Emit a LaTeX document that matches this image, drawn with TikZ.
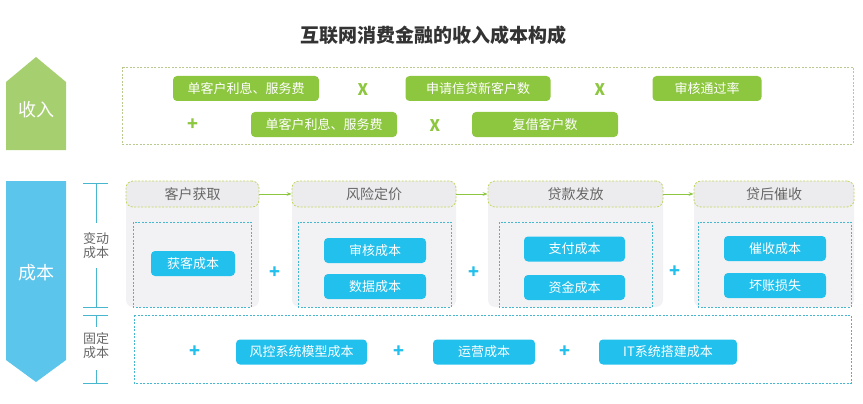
\documentclass[tikz,border=0pt]{standalone}
\usepackage{fontspec}
\setmainfont{Noto Sans CJK SC}
\usetikzlibrary{arrows.meta}
\definecolor{grnbox}{HTML}{8DC63F}
\definecolor{grnarr}{HTML}{A6D06F}
\definecolor{blubox}{HTML}{22C0EC}
\definecolor{bluarr}{HTML}{5CC5EC}
\definecolor{brkline}{HTML}{47B6CF}
\definecolor{colgray}{HTML}{F2F2F4}
\definecolor{headgray}{HTML}{ECECEE}
\definecolor{headline}{HTML}{C3D55B}
\definecolor{revline}{HTML}{B9C98F}
\definecolor{txtgray}{HTML}{666666}

\tikzset{
	boxfont/.style={font=\fontsize{13}{13}\selectfont},
	grnnode/.style={boxfont, fill=grnbox, text=white, rounded corners=4pt, inner sep=0pt, minimum height=25pt},
	blunode/.style={boxfont, fill=blubox, text=white, rounded corners=4pt, inner sep=0pt, minimum height=25pt},
	stagehead/.style={font=\fontsize{14}{14}\selectfont, draw=headline, line width=0.8pt, dash pattern=on 2pt off 1.5pt, fill=headgray, rounded corners=7pt, text=txtgray, inner sep=0pt, minimum height=26pt},
	finedash/.style={line width=0.8pt, dash pattern=on 2pt off 1.5pt},
	opgrn/.style={font=\fontsize{16}{16}\selectfont\bfseries, text=grnbox},
	opblu/.style={font=\fontsize{18}{18}\selectfont\bfseries, text=blubox},
	flowarr/.style={-{Stealth[length=5pt]}, grnbox, line width=1pt},
}

\begin{document}
\begin{tikzpicture}[x=1pt, y=-1pt]
	\useasboundingbox (0,0) rectangle (863,404);

	\node[font=\fontsize{19}{19}\selectfont\bfseries, text=black!80] (title) at (433,35) {互联网消费金融的收入成本构成};

	% side arrows
	\fill[grnarr] (6,82) -- (36,57) -- (66,82) -- (66,150) -- (6,150) -- cycle;
	\node[font=\fontsize{18}{18}\selectfont, text=white] (inc) at (36,110) {收入};
	\fill[bluarr] (6,181) -- (66,181) -- (66,360) -- (36,382) -- (6,360) -- cycle;
	\node[font=\fontsize{18}{18}\selectfont, text=white] (cost) at (36,273) {成本};

	% income
	\draw[revline, finedash] (122,67) rectangle (853,144);
	\node[grnnode, minimum width=146pt] (inc1) at (246,88.5) {单客户利息、服务费};
	\node[opgrn] (xa) at (363,90) {X};
	\node[grnnode, minimum width=145pt] (inc2) at (478,88.5) {申请信贷新客户数};
	\node[opgrn] (xb) at (600,90) {X};
	\node[grnnode, minimum width=109pt] (inc3) at (707,88.5) {审核通过率};
	\node[opgrn, font=\fontsize{18}{18}\selectfont\bfseries] (pa) at (193,125) {+};
	\node[grnnode, minimum width=146pt] (inc4) at (324,124.5) {单客户利息、服务费};
	\node[opgrn] (xc) at (435,126) {X};
	\node[grnnode, minimum width=146pt] (inc5) at (545,124.5) {复借客户数};

	% brackets
	\draw[brkline, line width=1pt] (83,183) -- (108,183) (96,183) -- (96,223) (96,268) -- (96,307) (83,307) -- (108,307);
	\draw[brkline, line width=1pt] (83,315) -- (108,315) (96,315) -- (96,327) (96,370) -- (96,383) (83,383) -- (108,383);
	\node[boxfont, text=txtgray, align=center] (var) at (96,246) {变动\\[1pt]成本};
	\node[boxfont, text=txtgray, align=center] (fix) at (96,346) {固定\\[1pt]成本};

	% stage columns
	\fill[colgray, rounded corners=7pt] (126,181) rectangle (259,307);
	\fill[colgray, rounded corners=7pt] (292,181) rectangle (456,307);
	\fill[colgray, rounded corners=7pt] (488,181) rectangle (663,307);
	\fill[colgray, rounded corners=7pt] (694,181) rectangle (854,307);
	\node[stagehead, minimum width=133pt] (st1) at (192.5,194) {客户获取};
	\node[stagehead, minimum width=164pt] (st2) at (374,194) {风险定价};
	\node[stagehead, minimum width=175pt] (st3) at (575.5,194) {贷款发放};
	\node[stagehead, minimum width=160pt] (st4) at (774,194) {贷后催收};
	\draw[flowarr] (st1) -- (st2);
	\draw[flowarr] (st2) -- (st3);
	\draw[flowarr] (st3) -- (st4);

	\draw[brkline, finedash] (133,222) rectangle (251,307);
	\draw[brkline, finedash] (298,222) rectangle (451,307);
	\draw[brkline, finedash] (499,222) rectangle (652,307);
	\draw[brkline, finedash] (698,222) rectangle (851,307);

	\node[blunode, minimum width=84pt] (c1) at (193,263.5) {获客成本};
	\node[opblu] (pb) at (275,273) {+};
	\node[blunode, minimum width=102pt] (c2) at (375,250.5) {审核成本};
	\node[blunode, minimum width=102pt] (c3) at (375,286.5) {数据成本};
	\node[opblu] (pc) at (474,273) {+};
	\node[blunode, minimum width=101pt] (c4) at (574.5,249) {支付成本};
	\node[blunode, minimum width=101pt] (c5) at (574.5,287.5) {资金成本};
	\node[opblu] (pd) at (675,272) {+};
	\node[blunode, minimum width=102pt] (c6) at (775,248.5) {催收成本};
	\node[blunode, minimum width=102pt] (c7) at (775,285.5) {坏账损失};

	% fixed cost
	\draw[brkline, finedash] (134,315) rectangle (851,383);
	\node[opblu] (pe) at (195,352) {+};
	\node[blunode, minimum width=131pt] (f1) at (301.5,352) {风控系统模型成本};
	\node[opblu] (pf) at (399,352) {+};
	\node[blunode, minimum width=102pt] (f2) at (484,352) {运营成本};
	\node[opblu] (pg) at (565,352) {+};
	\node[blunode, minimum width=138pt] (f3) at (668,352) {IT系统搭建成本};
\end{tikzpicture}
\end{document}
